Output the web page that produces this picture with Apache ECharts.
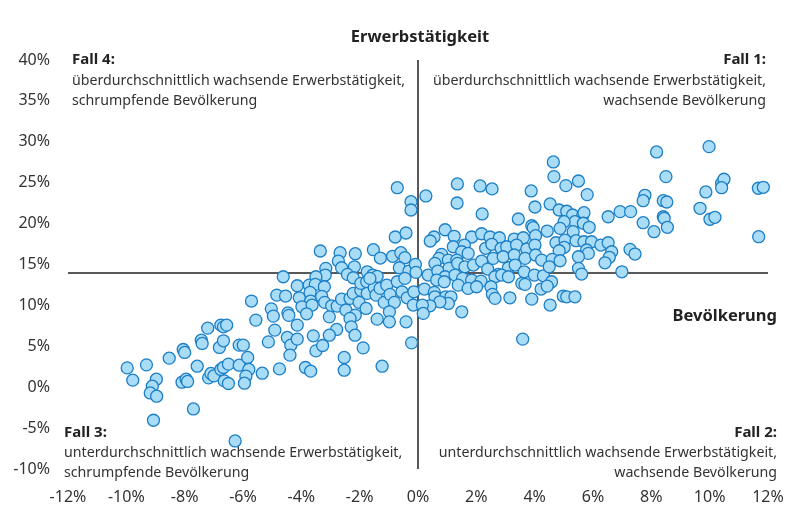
<!DOCTYPE html>
<html>
<head>
<meta charset="utf-8">
<script src="https://cdn.jsdelivr.net/npm/echarts@6/dist/echarts.min.js"></script>
<style>html,body{margin:0;padding:0;background:#fff}#c{width:787px;height:507px}</style>
</head>
<body>
<div id="c"></div>
<script>
// Bevölkerungswachstum (x, %) vs. Wachstum der Erwerbstätigkeit (y, %)
const pointsWest = [
[-9.97,2.36],[-9.78,0.86],[-9.31,2.73],[-8.97,0.98],[-9.11,0.12],[-9.18,-0.70],[-8.96,-1.10],[-8.53,3.55],[-8.05,4.61],[-8.00,4.25],
[-8.09,0.61],[-7.95,0.98],[-7.90,0.70],[-7.70,-2.66],[-7.57,2.57],[-7.43,5.75],[-7.40,5.35],[-7.21,7.22],[-7.18,1.14],[-7.10,1.68],
[-7.00,1.38],[-6.81,4.86],[-6.76,7.59],[-6.67,7.38],[-6.56,7.59],[-6.67,5.67],[-6.76,2.17],[-6.67,2.41],[-6.50,2.82],[-6.64,0.77],
[-6.50,0.45],[-6.13,5.14],[-5.99,5.14],[-6.13,2.69],[-5.84,3.64],[-5.80,2.17],[-5.90,1.35],[-5.95,0.49],[-5.71,10.53],[-5.56,8.20],
[-5.34,1.71],[-5.13,5.54],[-5.03,9.58],[-4.96,8.69],[-4.91,6.98],[-4.84,11.26],[-4.75,2.24],[-4.62,13.50],[-4.54,11.14],[-4.46,9.09],
[-4.43,8.78],[-4.48,6.08],[-4.36,5.14],[-4.39,3.92],[-4.14,5.88],[-3.86,2.41],[-3.68,1.96],[-3.50,4.44],[-3.27,5.10],[-2.53,3.64],
[-2.53,2.08],[-1.88,4.81],[-1.23,2.57],[-0.22,5.42],[-9.07,-4.04],[-6.27,-6.57]
];
const pointsCenterWest = [
[-0.78,18.36],[-0.41,18.85],[-3.35,16.65],[-2.67,16.44],[-2.73,15.42],[-2.15,16.32],[-1.53,16.81],[-1.29,15.79],[-0.87,16.00],[-0.59,16.44],
[-0.45,15.83],[-3.16,14.53],[-3.18,13.71],[-2.62,14.60],[-2.18,14.72],[-2.42,13.79],[-2.22,13.38],[-1.74,14.11],[-1.55,13.71],[-1.40,13.55],
[-0.64,14.60],[-0.31,14.20],[-0.09,15.02],[-0.07,14.04],[-4.14,12.40],[-3.73,12.48],[-3.50,13.50],[-3.52,12.57],[-3.21,12.28],[-4.07,10.93],
[-3.70,11.59],[-3.68,10.53],[-3.98,9.83],[-3.63,10.04],[-3.82,8.97],[-3.30,11.10],[-3.20,10.37],[-2.96,9.95],[-2.77,9.91],[-2.62,10.77],
[-2.47,9.42],[-2.33,10.86],[-2.22,11.47],[-1.96,11.84],[-2.02,10.37],[-1.96,12.69],[-1.76,12.89],[-1.74,11.47],[-1.78,9.63],[-2.15,8.81],
[-2.33,8.41],[-2.29,7.38],[-3.04,8.60],[-2.79,7.06],[-3.04,6.36],[-3.59,6.28],[-4.14,7.59],[-2.16,6.36],[-1.50,12.15],[-1.44,11.26],
[-1.30,12.08],[-1.16,10.37],[-1.07,12.48],[-0.96,11.35],[-0.81,10.37],[-0.98,9.22],[-0.98,7.99],[-1.40,8.32],[-0.71,12.89],[-0.55,11.66],
[-0.45,13.30],[-0.37,10.93],[-0.14,11.66],[-0.16,10.04],[-0.41,7.99],[-1.65,13.30],[-0.71,24.39],[-0.24,22.68],[-0.24,21.66]
];
const pointsCenterEast = [
[0.27,23.38],[1.34,22.52],[2.20,21.18],[3.44,20.56],[4.01,22.03],[3.90,19.74],[3.95,19.50],[0.93,19.25],[0.55,18.36],[0.42,17.87],
[1.24,18.45],[1.84,18.36],[2.18,18.76],[2.47,18.36],[2.79,18.27],[3.30,18.11],[3.61,18.27],[4.03,18.52],[1.21,17.17],[1.59,17.38],
[1.50,16.56],[1.72,16.36],[0.81,16.24],[0.72,15.75],[1.04,15.54],[1.33,15.54],[2.32,16.98],[2.53,17.47],[2.85,16.98],[3.04,17.17],
[3.38,17.38],[3.73,16.89],[4.01,17.38],[2.58,15.75],[2.92,15.95],[3.30,16.16],[3.67,15.75],[4.03,16.16],[4.24,15.54],[0.58,15.14],
[1.06,14.53],[1.36,15.14],[1.61,14.72],[1.90,14.93],[2.18,15.42],[2.39,14.44],[2.75,13.79],[3.10,14.60],[3.33,14.93],[3.64,14.11],
[3.99,13.71],[4.30,13.62],[0.35,13.71],[0.68,14.20],[0.93,13.50],[0.64,13.10],[0.90,12.89],[1.27,13.71],[1.53,13.30],[1.84,13.10],
[2.16,12.97],[2.64,13.50],[2.87,13.71],[3.10,13.50],[1.38,12.48],[1.72,12.08],[2.01,12.28],[2.50,12.28],[2.55,11.35],[2.64,10.86],
[3.56,12.69],[3.67,12.57],[4.22,12.00],[0.22,12.00],[0.56,11.59],[0.58,11.05],[0.95,11.05],[1.13,11.05],[1.04,10.24],[0.75,10.44],
[0.41,9.95],[0.15,10.04],[0.18,9.02],[1.50,9.22],[3.15,10.93],[3.90,10.77],[3.59,5.88],
[1.35,24.85],[2.13,24.60],[2.54,24.24],[3.88,23.99]
];
const pointsEast = [
[4.66,25.74],[5.07,24.64],[5.50,25.21],[5.80,23.54],[4.53,22.40],[4.84,21.66],[5.10,21.51],[5.30,21.05],[5.65,21.05],[5.69,21.33],
[5.38,20.23],[5.67,20.04],[5.87,19.55],[5.01,20.23],[4.87,19.42],[5.32,19.01],[4.43,19.09],[4.73,17.66],[5.04,17.99],[5.01,17.10],
[4.84,16.68],[5.42,17.91],[5.69,17.78],[5.95,17.78],[6.27,17.38],[6.52,17.66],[5.78,16.77],[5.84,16.36],[5.50,15.95],[6.64,16.56],
[6.56,15.88],[6.41,15.21],[7.27,16.85],[7.44,16.28],[4.60,15.63],[4.87,15.46],[4.50,14.72],[5.50,14.53],[5.61,13.83],[6.99,14.11],
[6.52,20.84],[6.93,21.46],[7.29,21.46],[7.72,20.11],[8.09,19.01],[4.58,12.89],[4.43,12.36],[4.98,11.14],[5.10,11.05],[5.38,11.05],
[4.53,10.04],
[4.64,27.54],[8.18,28.76],[9.98,29.41],[8.50,25.74],[7.78,23.46],[7.72,22.80],[8.41,22.80],[8.53,22.64],[8.41,20.84],[8.44,20.65],
[8.55,19.55],[9.67,21.87],[9.87,23.87],[10.41,24.93],[10.49,25.42],[10.41,24.39],[10.01,20.53],[10.18,20.77],[11.67,24.32],[11.84,24.44],
[11.68,18.40]
];
const xRange = { min: -12, max: 12, step: 2 };
const yRange = { min: -10, max: 40, step: 5 };
const avgEmployment = 14;   // horizontal reference (average growth of employment)
const avgPopulation = 0;    // vertical reference

const allPoints = pointsWest.concat(pointsCenterWest, pointsCenterEast, pointsEast);

const FONT = '"Noto Sans", "Open Sans", sans-serif';
const chart = echarts.init(document.getElementById('c'));
const txt = (text, x, y, opts) => ({
  type: 'text', x: x, y: y, silent: true,
  style: Object.assign({ text: text, font: '14.2px ' + FONT, fill: '#333', align: 'left', verticalAlign: 'middle' }, opts || {})
});
const bold = 'bold 15px ' + FONT;
chart.setOption({
  animation: false,
  grid: { left: 68, right: 19, top: 60, bottom: 38, containLabel: false },
  xAxis: {
    type: 'value', min: xRange.min, max: xRange.max, interval: xRange.step,
    axisLine: { show: false }, axisTick: { show: false }, splitLine: { show: false },
    axisLabel: { formatter: '{value}%', fontSize: 16, color: '#333', fontFamily: FONT, margin: 20 }
  },
  yAxis: {
    type: 'value', min: yRange.min, max: yRange.max, interval: yRange.step,
    axisLine: { show: false }, axisTick: { show: false }, splitLine: { show: false },
    axisLabel: { formatter: '{value}%', fontSize: 16, color: '#333', fontFamily: FONT, margin: 18 }
  },
  series: [{
    type: 'scatter', z: 10,
    data: allPoints,
    symbol: 'circle', symbolSize: 12,
    itemStyle: { color: '#a9dcf6', borderColor: '#1c7fc6', borderWidth: 1.3, opacity: 1 },
    markLine: {
      silent: true, symbol: 'none', z: 2, animation: false,
      label: { show: false },
      lineStyle: { color: '#222', width: 1.5, type: 'solid' },
      data: [{ xAxis: avgPopulation }, { yAxis: avgEmployment }]
    }
  }],
  graphic: [
    txt('Erwerbstätigkeit', 420, 37, { font: 'bold 16.5px ' + FONT, fill: '#222', align: 'center' }),
    txt('Bevölkerung', 777, 316, { font: 'bold 16.5px ' + FONT, fill: '#222', align: 'right' }),
    txt('Fall 4:', 72, 60, { font: bold, fill: '#222' }),
    txt('überdurchschnittlich wachsende Erwerbstätigkeit,', 72, 80.5),
    txt('schrumpfende Bevölkerung', 72, 101),
    txt('Fall 1:', 766, 60, { font: bold, fill: '#222', align: 'right' }),
    txt('überdurchschnittlich wachsende Erwerbstätigkeit,', 766, 80.5, { align: 'right' }),
    txt('wachsende Bevölkerung', 766, 101, { align: 'right' }),
    txt('Fall 3:', 64, 433, { font: bold, fill: '#222' }),
    txt('unterdurchschnittlich wachsende Erwerbstätigkeit,', 64, 453),
    txt('schrumpfende Bevölkerung', 64, 473),
    txt('Fall 2:', 777, 433, { font: bold, fill: '#222', align: 'right' }),
    txt('unterdurchschnittlich wachsende Erwerbstätigkeit,', 777, 453, { align: 'right' }),
    txt('wachsende Bevölkerung', 777, 473, { align: 'right' })
  ]
});
</script>
</body>
</html>
